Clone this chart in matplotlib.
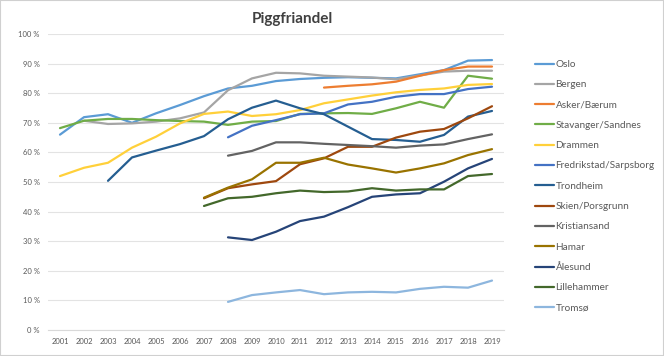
import matplotlib.pyplot as plt
import matplotlib.patches as mpatches
from matplotlib.ticker import FuncFormatter
import numpy as np

years = list(range(2001, 2020))

# andel piggfrie dekk (%), None = ingen data
oslo = [66, 71.9, 72.9, 70.0, 73.2, 76, 79, 81.6, 82.5, 84.1, 84.8, 85.2, 85.4, 85.2, 85.0, 86.4, 87.8, 91.0, 91.2]
bergen = [None, 70.7, 69.6, 69.8, 70.4, 71.5, 73.5, 81, 85, 86.9, 86.7, 85.9, 85.6, 85.3, 84.7, 86, 87.3, 87.6, 87.6]
asker = [None] * 11 + [81.9, 82.5, 83.0, 83.9, 85.9, 87.8, 89, 89]
stavanger = [68.2, 70.7, 71.3, 71.3, 70.9, 70.6, 70.4, 69.3, 70.4, 70.6, 73, 73.2, 73.3, 73.0, 74.9, 77.1, 75.1, 85.9, 84.9]
drammen = [52, 54.8, 56.5, 61.6, 65.3, 69.8, 73, 73.8, 72.3, 72.9, 74.3, 76.6, 77.9, 79.2, 80.3, 81.1, 81.6, 82.8, 83.1]
fredrikstad = [None] * 7 + [65.1, 69, 70.9, 72.9, 73.2, 76.2, 77.1, 78.8, 79.7, 79.7, 81.4, 82.2]
trondheim = [None, None, 50.4, 58.3, 60.6, 62.8, 65.5, 71.2, 75.1, 77.5, 74.9, 72.9, 68.7, 64.5, 64.2, 63.6, 65.9, 72.1, 74]
skien = [None] * 6 + [44.5, 47.9, 49.2, 50.3, 56, 58, 61.9, 61.9, 65, 67, 67.9, 71.5, 75.6]
kristiansand = [None] * 7 + [58.9, 60.5, 63.4, 63.4, 62.9, 62.5, 62.1, 61.6, 62.3, 62.7, 64.5, 66.1]
hamar = [None] * 6 + [44.7, 48.1, 50.9, 56.5, 56.5, 58.2, 55.9, 54.6, 53.2, 54.6, 56.3, 59.1, 61.1]
alesund = [None] * 7 + [31.3, 30.4, 33.2, 36.8, 38.3, 41.5, 45, 45.8, 46.2, 50.1, 54.6, 57.8]
lillehammer = [None] * 6 + [41.9, 44.5, 45, 46.2, 47.1, 46.6, 46.8, 47.9, 47.1, 47.5, 47.5, 52, 52.7]
tromso = [None] * 7 + [9.5, 11.8, 12.7, 13.5, 12.1, 12.7, 12.9, 12.7, 13.9, 14.6, 14.3, 16.7]

names = ["Oslo", "Bergen", "Asker/Bærum", "Stavanger/Sandnes", "Drammen",
         "Fredrikstad/Sarpsborg", "Trondheim", "Skien/Porsgrunn", "Kristiansand",
         "Hamar", "Ålesund", "Lillehammer", "Tromsø"]
series = [oslo, bergen, asker, stavanger, drammen, fredrikstad, trondheim,
          skien, kristiansand, hamar, alesund, lillehammer, tromso]
colors = ["#5B9BD5", "#A5A5A5", "#ED7D31", "#70AD47", "#FFD03A", "#4472C4",
          "#255E91", "#9E480E", "#636363", "#997300", "#264478", "#43682B", "#8DB6DE"]

plt.rcParams['font.family'] = ['Lato', 'DejaVu Sans']

fig = plt.figure(figsize=(6.64, 3.56), dpi=100)
ax = fig.add_axes([48 / 664, 26 / 356, 456 / 664, 296 / 356])

for name, vals, c in zip(names, series, colors):
    y = np.array([np.nan if v is None else v for v in vals], dtype=float)
    ax.plot(years, y, color=c, lw=1.6, label=name, solid_capstyle='round')

ax.set_xlim(2000.5, 2019.5)
ax.set_ylim(0, 100)
ax.set_xticks(years)
ax.set_yticks(range(0, 101, 10))
ax.yaxis.set_major_formatter(FuncFormatter(lambda v, p: "%d %%" % v))
ax.tick_params(length=0, labelsize=5.5, labelcolor="#595959", pad=6)
ax.grid(axis='y', color="#E3E3E3", lw=0.8)
ax.set_axisbelow(True)
for s in ['top', 'right', 'left']:
    ax.spines[s].set_visible(False)
ax.spines['bottom'].set_color("#D9D9D9")

fig.text(0.44, 0.948, "Piggfriandel", ha='center', va='center',
         fontsize=11, fontweight='bold', color="#404040")

fig.legend(loc='upper left', bbox_to_anchor=(526 / 664, 1 - 51 / 356), frameon=False,
           fontsize=7.2, handlelength=1.9, handletextpad=0.15, labelspacing=1.13,
           labelcolor="#595959")

fig.patches.append(mpatches.Rectangle((0, 0), 1, 1, transform=fig.transFigure,
                                      fill=False, ec="#D0D0D0", lw=1.5))

fig.savefig("out.png", dpi=100)
